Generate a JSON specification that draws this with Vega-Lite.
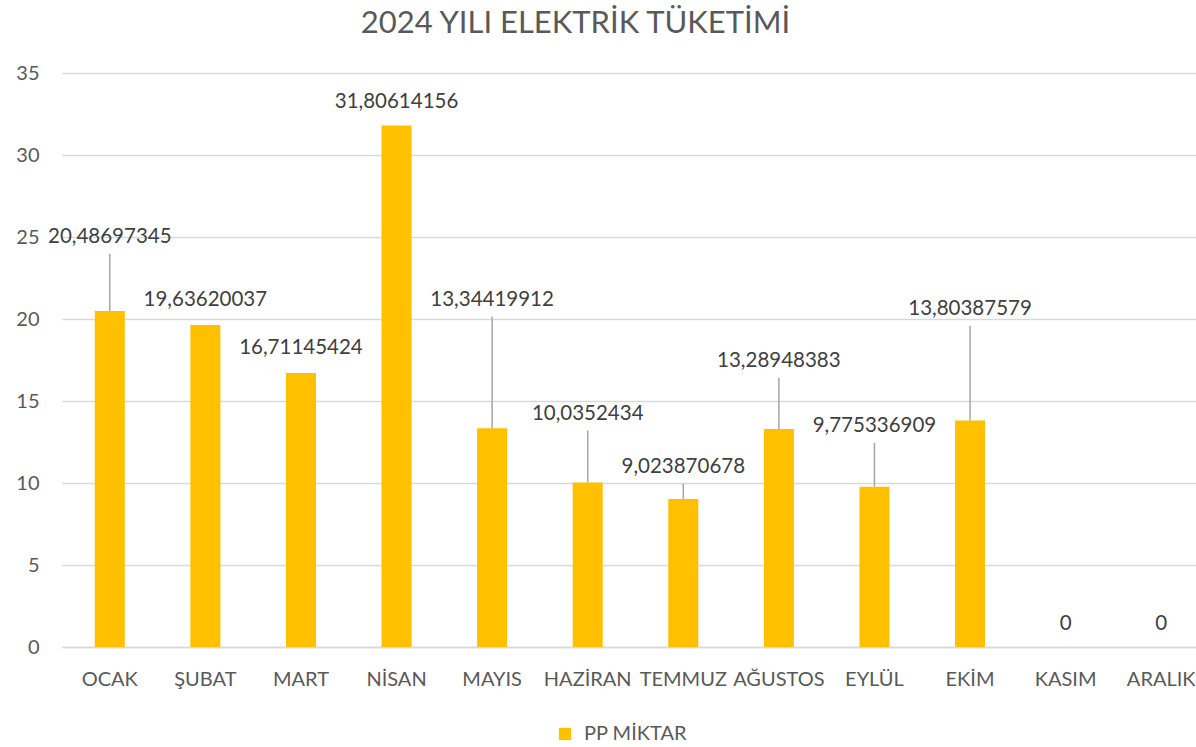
{
  "$schema": "https://vega.github.io/schema/vega-lite/v6.json",
  "autosize": {"type": "none"},
  "padding": {"left": 62, "top": 73, "right": 0, "bottom": 100},
  "width": 1147,
  "height": 574,
  "background": "white",
  "title": {
    "text": "2024 YILI ELEKTRİK TÜKETİMİ",
    "font": "Lato",
    "fontSize": 31,
    "fontWeight": "normal",
    "color": "#595959",
    "anchor": "middle",
    "baseline": "alphabetic",
    "dx": -60,
    "offset": -1
  },
  "data": {
    "values": [
      {"ay": "OCAK", "value": 20.48697345, "labelY": 25.02},
      {"ay": "ŞUBAT", "value": 19.63620037, "labelY": 21.18},
      {"ay": "MART", "value": 16.71145424, "labelY": 18.25},
      {"ay": "NİSAN", "value": 31.80614156, "labelY": 33.25},
      {"ay": "MAYIS", "value": 13.34419912, "labelY": 21.18},
      {"ay": "HAZİRAN", "value": 10.0352434, "labelY": 14.23},
      {"ay": "TEMMUZ", "value": 9.023870678, "labelY": 10.99},
      {"ay": "AĞUSTOS", "value": 13.28948383, "labelY": 17.46},
      {"ay": "EYLÜL", "value": 9.775336909, "labelY": 13.49},
      {"ay": "EKİM", "value": 13.80387579, "labelY": 20.63},
      {"ay": "KASIM", "value": 0, "labelY": 1.42},
      {"ay": "ARALIK", "value": 0, "labelY": 1.42}
    ]
  },
  "encoding": {
    "x": {
      "field": "ay",
      "type": "nominal",
      "sort": null,
      "title": null,
      "scale": {"paddingInner": 0.686, "paddingOuter": 0.343},
      "axis": {
        "labelAngle": 0,
        "labelFont": "Lato",
        "labelFontSize": 20,
        "labelColor": "#595959",
        "labelPadding": 22,
        "labelOverlap": false,
        "ticks": false,
        "domainColor": "#d9d9d9",
        "domainWidth": 1.5,
        "grid": false
      }
    }
  },
  "layer": [
    {
      "mark": {"type": "bar", "color": "#FFC000"},
      "encoding": {
        "y": {
          "field": "value",
          "type": "quantitative",
          "title": null,
          "scale": {"domain": [0, 35], "nice": false},
          "axis": {
            "values": [0, 5, 10, 15, 20, 25, 30, 35],
            "labelFont": "Lato",
            "labelFontSize": 20,
            "labelColor": "#595959",
            "labelPadding": 23,
            "ticks": false,
            "domain": false,
            "gridColor": "#d9d9d9",
            "gridWidth": 1.5
          }
        },
        "color": {
          "datum": "PP MİKTAR",
          "scale": {"range": ["#FFC000"]},
          "legend": {
            "title": null,
            "orient": "none",
            "legendX": 493,
            "legendY": 651,
            "symbolType": "square",
            "symbolSize": 150,
            "symbolStrokeWidth": 0,
            "labelFont": "Lato",
            "labelFontSize": 20,
            "labelColor": "#595959",
            "labelOffset": 9
          }
        }
      }
    },
    {
      "transform": [{"filter": "datum.labelY - datum.value > 1.8"}],
      "mark": {"type": "rule", "color": "#a6a6a6", "strokeWidth": 1.5, "y2Offset": 17},
      "encoding": {
        "y": {"field": "value", "type": "quantitative"},
        "y2": {"field": "labelY"}
      }
    },
    {
      "mark": {
        "type": "text",
        "font": "Lato",
        "fontSize": 20.5,
        "color": "#404040",
        "baseline": "middle",
        "align": "center"
      },
      "encoding": {
        "y": {"field": "labelY", "type": "quantitative"},
        "text": {"field": "value", "type": "quantitative", "format": ".10~r"}
      }
    }
  ],
  "config": {
    "view": {"stroke": null},
    "locale": {
      "number": {
        "decimal": ",",
        "thousands": ".",
        "grouping": [3],
        "currency": ["", " ₺"]
      }
    }
  }
}
